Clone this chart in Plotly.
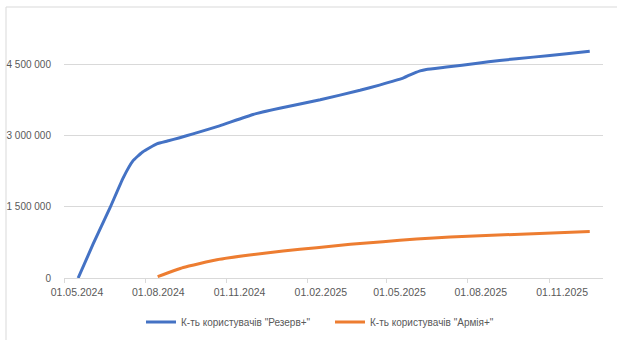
import plotly.graph_objects as go

# Резерв+ users
reserve_dates = ["2024-05-17", "2024-06-03", "2024-06-22", "2024-07-07", "2024-07-18", "2024-07-29",
                 "2024-08-14", "2024-08-26", "2024-09-09", "2024-09-24", "2024-10-24", "2024-12-01",
                 "2024-12-31", "2025-02-15", "2025-04-01", "2025-04-23", "2025-05-19",
                 "2025-05-27", "2025-06-08", "2025-06-15", "2025-07-08", "2025-08-12", "2025-09-06",
                 "2025-10-14", "2025-11-21", "2025-12-17"]
reserve_vals = [0, 718000, 1479000, 2113000, 2470000, 2660000,
                2830000, 2890000, 2960000, 3040000, 3210000, 3450000,
                3580000, 3760000, 3960000, 4070000, 4210000,
                4280000, 4370000, 4400000, 4450000, 4530000, 4590000,
                4660000, 4730000, 4785000]

# Армія+ users
army_dates = ["2024-08-15", "2024-09-13", "2024-10-21", "2024-11-27", "2025-01-04", "2025-02-11",
              "2025-03-21", "2025-04-27", "2025-06-04", "2025-07-12", "2025-10-14", "2025-12-17"]
army_vals = [30000, 222000, 385000, 486000, 570000, 640000,
             711000, 767000, 824000, 866000, 935000, 982000]

tick_dates = ["2024-05-01", "2024-08-01", "2024-11-01", "2025-02-01", "2025-05-01", "2025-08-01", "2025-11-01"]
tick_labels = ["01.05.2024", "01.08.2024", "01.11.2024", "01.02.2025", "01.05.2025", "01.08.2025", "01.11.2025"]
y_ticks = [0, 1500000, 3000000, 4500000]
y_labels = ["0", "1 500 000", "3 000 000", "4 500 000"]

GRAY = "#D9D9D9"
TEXT = "#595959"
FONT = "Liberation Sans"

fig = go.Figure()
fig.add_trace(go.Scatter(x=reserve_dates, y=reserve_vals, mode="lines",
                         line=dict(color="#4472C4", width=3, shape="spline", smoothing=0.4),
                         name='К-ть користувачів "Резерв+"'))
fig.add_trace(go.Scatter(x=army_dates, y=army_vals, mode="lines",
                         line=dict(color="#ED7D31", width=3, shape="spline", smoothing=0.4),
                         name='К-ть користувачів "Армія+"'))

L, R, T, B = 64, 14, 41, 62
W, H = 617, 340
pw, ph = W - L - R, H - T - B

def px2paper_x(px):
    return (px - L) / pw

def px2paper_y(py):
    return (H - B - py) / ph

fig.add_shape(type="rect", xref="paper", yref="paper",
              x0=px2paper_x(6), x1=px2paper_x(640), y0=px2paper_y(360), y1=px2paper_y(7),
              line=dict(color=GRAY, width=1), fillcolor="rgba(0,0,0,0)", layer="below")

fig.update_layout(
    width=W, height=H,
    margin=dict(l=L, r=R, t=T, b=B, autoexpand=False),
    paper_bgcolor="white", plot_bgcolor="white",
    font=dict(family=FONT, size=10, color=TEXT),
    showlegend=True,
    legend=dict(orientation="h", x=px2paper_x(330), xanchor="center",
                yref="container", y=(H - 322) / H, yanchor="middle",
                entrywidth=144, entrywidthmode="pixels",
                font=dict(size=10, color=TEXT), bgcolor="rgba(0,0,0,0)"),
    xaxis=dict(type="date", range=["2024-05-01", "2026-01-01"],
               tickvals=tick_dates, ticktext=tick_labels,
               ticks="outside", ticklen=4, tickcolor=GRAY,
               showline=True, linecolor=GRAY, linewidth=1,
               showgrid=False, zeroline=False, ticklabelshift=13,
               tickfont=dict(size=10.5, color=TEXT)),
    yaxis=dict(range=[0, 5000000], tickvals=y_ticks, ticktext=y_labels,
               showgrid=True, gridcolor=GRAY, gridwidth=1, zeroline=False,
               showline=False, ticks="", ticklabelstandoff=12,
               tickfont=dict(size=10, color=TEXT)),
)

fig.write_html("out.html")
